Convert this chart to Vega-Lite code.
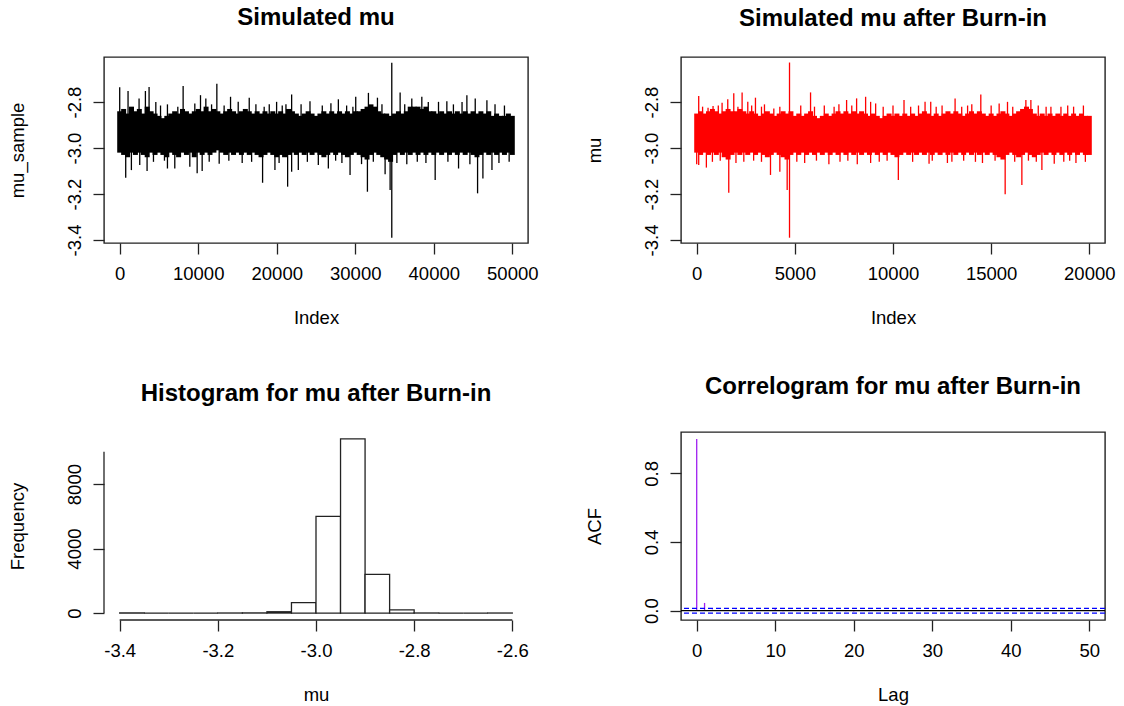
{
  "$schema": "https://vega.github.io/schema/vega-lite/v6.json",
  "background": "white",
  "padding": {"left": 7, "top": 5, "right": 0, "bottom": 0},
  "config": {
    "font": "Liberation Sans",
    "view": {"stroke": "#222", "strokeWidth": 1.4},
    "axis": {"grid": false, "domain": false, "tickColor": "#222", "tickWidth": 1.3, "tickSize": 11, "labelFont": "Liberation Sans", "labelFontSize": 18.5, "labelColor": "#000", "titleFont": "Liberation Sans", "titleFontSize": 18.5, "titleFontWeight": "normal", "titleColor": "#000", "labelFlush": false, "labelOverlap": false},
    "axisX": {"labelPadding": 10, "titlePadding": 26},
    "axisY": {"labelAngle": -90, "labelAlign": "center", "labelBaseline": "alphabetic", "labelPadding": 13, "titlePadding": 38},
    "title": {"fontSize": 24, "fontWeight": "bold", "font": "Liberation Sans", "color": "#000", "anchor": "middle", "baseline": "alphabetic"}
  },
  "datasets": {
    "p1core": [
      {"i":0,"lo":-3.02,"hi":-2.84},{"i":500,"lo":-3.03,"hi":-2.83},{"i":1000,"lo":-3.04,"hi":-2.85},{"i":1500,"lo":-3.02,"hi":-2.82},{"i":2000,"lo":-3.03,"hi":-2.84},
      {"i":2500,"lo":-3.02,"hi":-2.83},{"i":3000,"lo":-3.03,"hi":-2.85},{"i":3500,"lo":-3.04,"hi":-2.82},{"i":4000,"lo":-3.02,"hi":-2.84},{"i":4500,"lo":-3.03,"hi":-2.85},
      {"i":5000,"lo":-3.02,"hi":-2.86},{"i":5500,"lo":-3.03,"hi":-2.87},{"i":6000,"lo":-3.04,"hi":-2.86},{"i":6500,"lo":-3.02,"hi":-2.85},{"i":7000,"lo":-3.03,"hi":-2.84},
      {"i":7500,"lo":-3.04,"hi":-2.85},{"i":8000,"lo":-3.02,"hi":-2.83},{"i":8500,"lo":-3.03,"hi":-2.84},{"i":9000,"lo":-3.02,"hi":-2.85},{"i":9500,"lo":-3.04,"hi":-2.84},
      {"i":10000,"lo":-3.02,"hi":-2.83},{"i":10500,"lo":-3.03,"hi":-2.84},{"i":11000,"lo":-3.02,"hi":-2.82},{"i":11500,"lo":-3.03,"hi":-2.84},{"i":12000,"lo":-3.02,"hi":-2.83},
      {"i":12500,"lo":-3.01,"hi":-2.84},{"i":13000,"lo":-3.02,"hi":-2.85},{"i":13500,"lo":-3.03,"hi":-2.84},{"i":14000,"lo":-3.02,"hi":-2.83},{"i":14500,"lo":-3.03,"hi":-2.84},
      {"i":15000,"lo":-3.02,"hi":-2.85},{"i":15500,"lo":-3.03,"hi":-2.84},{"i":16000,"lo":-3.02,"hi":-2.83},{"i":16500,"lo":-3.03,"hi":-2.84},{"i":17000,"lo":-3.02,"hi":-2.85},
      {"i":17500,"lo":-3.03,"hi":-2.84},{"i":18000,"lo":-3.04,"hi":-2.85},{"i":18500,"lo":-3.03,"hi":-2.84},{"i":19000,"lo":-3.02,"hi":-2.85},{"i":19500,"lo":-3.03,"hi":-2.84},
      {"i":20000,"lo":-3.04,"hi":-2.85},{"i":20500,"lo":-3.03,"hi":-2.84},{"i":21000,"lo":-3.04,"hi":-2.85},{"i":21500,"lo":-3.03,"hi":-2.83},{"i":22000,"lo":-3.02,"hi":-2.84},
      {"i":22500,"lo":-3.03,"hi":-2.85},{"i":23000,"lo":-3.02,"hi":-2.86},{"i":23500,"lo":-3.03,"hi":-2.85},{"i":24000,"lo":-3.02,"hi":-2.84},{"i":24500,"lo":-3.03,"hi":-2.85},
      {"i":25000,"lo":-3.02,"hi":-2.86},{"i":25500,"lo":-3.03,"hi":-2.85},{"i":26000,"lo":-3.04,"hi":-2.84},{"i":26500,"lo":-3.03,"hi":-2.85},{"i":27000,"lo":-3.02,"hi":-2.84},
      {"i":27500,"lo":-3.03,"hi":-2.85},{"i":28000,"lo":-3.02,"hi":-2.84},{"i":28500,"lo":-3.03,"hi":-2.85},{"i":29000,"lo":-3.04,"hi":-2.84},{"i":29500,"lo":-3.03,"hi":-2.85},
      {"i":30000,"lo":-3.02,"hi":-2.84},{"i":30500,"lo":-3.03,"hi":-2.84},{"i":31000,"lo":-3.04,"hi":-2.83},{"i":31500,"lo":-3.05,"hi":-2.82},{"i":32000,"lo":-3.03,"hi":-2.81},
      {"i":32500,"lo":-3.02,"hi":-2.82},{"i":33000,"lo":-3.03,"hi":-2.84},{"i":33500,"lo":-3.04,"hi":-2.85},{"i":34000,"lo":-3.05,"hi":-2.85},{"i":34500,"lo":-3.06,"hi":-2.86},
      {"i":35000,"lo":-3.03,"hi":-2.85},{"i":35500,"lo":-3.02,"hi":-2.84},{"i":36000,"lo":-3.03,"hi":-2.85},{"i":36500,"lo":-3.02,"hi":-2.84},{"i":37000,"lo":-3.03,"hi":-2.82},
      {"i":37500,"lo":-3.02,"hi":-2.82},{"i":38000,"lo":-3.03,"hi":-2.82},{"i":38500,"lo":-3.02,"hi":-2.83},{"i":39000,"lo":-3.03,"hi":-2.82},{"i":39500,"lo":-3.02,"hi":-2.84},
      {"i":40000,"lo":-3.03,"hi":-2.84},{"i":40500,"lo":-3.02,"hi":-2.85},{"i":41000,"lo":-3.03,"hi":-2.84},{"i":41500,"lo":-3.02,"hi":-2.85},{"i":42000,"lo":-3.03,"hi":-2.84},
      {"i":42500,"lo":-3.02,"hi":-2.85},{"i":43000,"lo":-3.03,"hi":-2.84},{"i":43500,"lo":-3.02,"hi":-2.85},{"i":44000,"lo":-3.03,"hi":-2.84},{"i":44500,"lo":-3.02,"hi":-2.85},
      {"i":45000,"lo":-3.03,"hi":-2.84},{"i":45500,"lo":-3.04,"hi":-2.85},{"i":46000,"lo":-3.03,"hi":-2.84},{"i":46500,"lo":-3.02,"hi":-2.85},{"i":47000,"lo":-3.03,"hi":-2.84},
      {"i":47500,"lo":-3.02,"hi":-2.86},{"i":48000,"lo":-3.03,"hi":-2.85},{"i":48500,"lo":-3.02,"hi":-2.86},{"i":49000,"lo":-3.03,"hi":-2.86},{"i":49500,"lo":-3.02,"hi":-2.85},
      {"i":50000,"lo":-3.03,"hi":-2.86}
    ],
    "p1spike": [
      {"i":0,"lo":-3.0,"hi":-2.736},{"i":765,"lo":-3.129,"hi":-2.95},{"i":1063,"lo":-2.9,"hi":-2.752},{"i":1488,"lo":-3.096,"hi":-2.95},{"i":2466,"lo":-2.9,"hi":-2.784},
      {"i":2551,"lo":-3.074,"hi":-2.95},{"i":3273,"lo":-2.9,"hi":-2.752},{"i":3486,"lo":-3.1,"hi":-2.95},{"i":3741,"lo":-2.9,"hi":-2.735},{"i":4300,"lo":-3.06,"hi":-2.95},
      {"i":4600,"lo":-2.9,"hi":-2.8},{"i":5200,"lo":-2.9,"hi":-2.815},{"i":5700,"lo":-3.055,"hi":-2.95},{"i":6080,"lo":-3.089,"hi":-2.81},{"i":7015,"lo":-3.089,"hi":-2.95},
      {"i":7400,"lo":-2.9,"hi":-2.82},{"i":8078,"lo":-2.9,"hi":-2.73},{"i":8929,"lo":-3.081,"hi":-2.95},{"i":9566,"lo":-2.9,"hi":-2.806},{"i":9864,"lo":-3.11,"hi":-2.95},
      {"i":10290,"lo":-2.9,"hi":-2.77},{"i":10502,"lo":-3.1,"hi":-2.95},{"i":10969,"lo":-2.9,"hi":-2.784},{"i":11400,"lo":-3.06,"hi":-2.95},{"i":11700,"lo":-2.9,"hi":-2.81},
      {"i":12372,"lo":-2.9,"hi":-2.72},{"i":12670,"lo":-3.068,"hi":-2.95},{"i":13300,"lo":-2.9,"hi":-2.815},{"i":13900,"lo":-3.055,"hi":-2.95},{"i":14116,"lo":-2.9,"hi":-2.777},
      {"i":15093,"lo":-2.9,"hi":-2.799},{"i":15600,"lo":-3.065,"hi":-2.95},{"i":16497,"lo":-2.9,"hi":-2.781},{"i":16800,"lo":-3.06,"hi":-2.95},{"i":17347,"lo":-2.9,"hi":-2.809},
      {"i":18197,"lo":-3.151,"hi":-2.95},{"i":18400,"lo":-2.9,"hi":-2.82},{"i":19047,"lo":-2.9,"hi":-2.81},{"i":19770,"lo":-3.096,"hi":-2.95},{"i":19983,"lo":-2.9,"hi":-2.799},
      {"i":20300,"lo":-3.065,"hi":-2.95},{"i":20700,"lo":-2.9,"hi":-2.815},{"i":21173,"lo":-2.9,"hi":-2.81},{"i":21386,"lo":-3.168,"hi":-2.95},{"i":21897,"lo":-3.103,"hi":-2.767},
      {"i":22748,"lo":-3.096,"hi":-2.95},{"i":23100,"lo":-2.9,"hi":-2.81},{"i":23900,"lo":-3.06,"hi":-2.95},{"i":24234,"lo":-2.9,"hi":-2.796},{"i":25296,"lo":-3.074,"hi":-2.95},
      {"i":25800,"lo":-2.9,"hi":-2.815},{"i":26572,"lo":-3.089,"hi":-2.95},{"i":26900,"lo":-2.9,"hi":-2.805},{"i":27500,"lo":-3.055,"hi":-2.95},{"i":27848,"lo":-2.9,"hi":-2.788},
      {"i":28300,"lo":-3.065,"hi":-2.95},{"i":28900,"lo":-2.9,"hi":-2.815},{"i":29337,"lo":-3.117,"hi":-2.95},{"i":29700,"lo":-2.9,"hi":-2.82},{"i":30060,"lo":-2.9,"hi":-2.777},
      {"i":30800,"lo":-3.07,"hi":-2.95},{"i":31549,"lo":-3.19,"hi":-2.95},{"i":31676,"lo":-2.9,"hi":-2.76},{"i":32300,"lo":-3.06,"hi":-2.95},{"i":32826,"lo":-2.9,"hi":-2.781},
      {"i":33400,"lo":-2.9,"hi":-2.81},{"i":33801,"lo":-3.114,"hi":-2.95},{"i":34439,"lo":-3.183,"hi":-2.95},{"i":34651,"lo":-3.39,"hi":-2.629},{"i":35300,"lo":-3.065,"hi":-2.95},
      {"i":35714,"lo":-2.9,"hi":-2.758},{"i":36300,"lo":-2.9,"hi":-2.81},{"i":36564,"lo":-3.071,"hi":-2.95},{"i":37201,"lo":-2.9,"hi":-2.784},{"i":37900,"lo":-3.06,"hi":-2.95},
      {"i":38477,"lo":-2.9,"hi":-2.777},{"i":39000,"lo":-3.065,"hi":-2.95},{"i":39300,"lo":-2.9,"hi":-2.8},{"i":40178,"lo":-3.139,"hi":-2.95},{"i":40602,"lo":-2.9,"hi":-2.799},
      {"i":41665,"lo":-2.9,"hi":-2.796},{"i":41800,"lo":-3.06,"hi":-2.95},{"i":42500,"lo":-2.9,"hi":-2.81},{"i":43155,"lo":-3.089,"hi":-2.95},{"i":43600,"lo":-2.9,"hi":-2.8},
      {"i":44216,"lo":-2.9,"hi":-2.77},{"i":44600,"lo":-3.07,"hi":-2.95},{"i":45280,"lo":-2.9,"hi":-2.784},{"i":45578,"lo":-3.197,"hi":-2.95},{"i":46257,"lo":-3.132,"hi":-2.95},
      {"i":46767,"lo":-2.9,"hi":-2.792},{"i":47409,"lo":-3.096,"hi":-2.95},{"i":47800,"lo":-2.9,"hi":-2.81},{"i":48300,"lo":-3.065,"hi":-2.95},{"i":49000,"lo":-2.9,"hi":-2.815},
      {"i":49600,"lo":-3.06,"hi":-2.95}
    ],
    "p2core": [
      {"i":0,"lo":-3.02,"hi":-2.85},{"i":200,"lo":-3.03,"hi":-2.84},{"i":400,"lo":-3.02,"hi":-2.85},{"i":600,"lo":-3.03,"hi":-2.84},{"i":800,"lo":-3.02,"hi":-2.83},
      {"i":1000,"lo":-3.03,"hi":-2.84},{"i":1200,"lo":-3.02,"hi":-2.85},{"i":1400,"lo":-3.04,"hi":-2.84},{"i":1600,"lo":-3.05,"hi":-2.83},{"i":1800,"lo":-3.03,"hi":-2.84},
      {"i":2000,"lo":-3.02,"hi":-2.84},{"i":2200,"lo":-3.03,"hi":-2.83},{"i":2400,"lo":-3.02,"hi":-2.84},{"i":2600,"lo":-3.03,"hi":-2.85},{"i":2800,"lo":-3.02,"hi":-2.84},
      {"i":3000,"lo":-3.03,"hi":-2.85},{"i":3200,"lo":-3.02,"hi":-2.86},{"i":3400,"lo":-3.03,"hi":-2.85},{"i":3600,"lo":-3.04,"hi":-2.84},{"i":3800,"lo":-3.03,"hi":-2.85},
      {"i":4000,"lo":-3.02,"hi":-2.86},{"i":4200,"lo":-3.03,"hi":-2.85},{"i":4400,"lo":-3.04,"hi":-2.84},{"i":4600,"lo":-3.05,"hi":-2.85},{"i":4800,"lo":-3.03,"hi":-2.84},
      {"i":5000,"lo":-3.02,"hi":-2.86},{"i":5200,"lo":-3.03,"hi":-2.85},{"i":5400,"lo":-3.02,"hi":-2.86},{"i":5600,"lo":-3.03,"hi":-2.85},{"i":5800,"lo":-3.02,"hi":-2.84},
      {"i":6000,"lo":-3.03,"hi":-2.86},{"i":6200,"lo":-3.02,"hi":-2.87},{"i":6400,"lo":-3.03,"hi":-2.86},{"i":6600,"lo":-3.02,"hi":-2.85},{"i":6800,"lo":-3.03,"hi":-2.86},
      {"i":7000,"lo":-3.02,"hi":-2.85},{"i":7200,"lo":-3.03,"hi":-2.84},{"i":7400,"lo":-3.02,"hi":-2.85},{"i":7600,"lo":-3.03,"hi":-2.84},{"i":7800,"lo":-3.02,"hi":-2.85},
      {"i":8000,"lo":-3.03,"hi":-2.84},{"i":8200,"lo":-3.02,"hi":-2.85},{"i":8400,"lo":-3.03,"hi":-2.84},{"i":8600,"lo":-3.02,"hi":-2.85},{"i":8800,"lo":-3.03,"hi":-2.86},
      {"i":9000,"lo":-3.02,"hi":-2.85},{"i":9200,"lo":-3.03,"hi":-2.86},{"i":9400,"lo":-3.02,"hi":-2.87},{"i":9600,"lo":-3.03,"hi":-2.86},{"i":9800,"lo":-3.02,"hi":-2.85},
      {"i":10000,"lo":-3.03,"hi":-2.86},{"i":10200,"lo":-3.04,"hi":-2.85},{"i":10400,"lo":-3.03,"hi":-2.86},{"i":10600,"lo":-3.02,"hi":-2.85},{"i":10800,"lo":-3.03,"hi":-2.86},
      {"i":11000,"lo":-3.02,"hi":-2.85},{"i":11200,"lo":-3.03,"hi":-2.86},{"i":11400,"lo":-3.02,"hi":-2.85},{"i":11600,"lo":-3.03,"hi":-2.84},{"i":11800,"lo":-3.02,"hi":-2.85},
      {"i":12000,"lo":-3.03,"hi":-2.86},{"i":12200,"lo":-3.02,"hi":-2.85},{"i":12400,"lo":-3.03,"hi":-2.86},{"i":12600,"lo":-3.02,"hi":-2.85},{"i":12800,"lo":-3.03,"hi":-2.84},
      {"i":13000,"lo":-3.02,"hi":-2.85},{"i":13200,"lo":-3.03,"hi":-2.84},{"i":13400,"lo":-3.02,"hi":-2.85},{"i":13600,"lo":-3.03,"hi":-2.86},{"i":13800,"lo":-3.02,"hi":-2.85},
      {"i":14000,"lo":-3.03,"hi":-2.84},{"i":14200,"lo":-3.02,"hi":-2.85},{"i":14400,"lo":-3.03,"hi":-2.84},{"i":14600,"lo":-3.02,"hi":-2.85},{"i":14800,"lo":-3.03,"hi":-2.86},
      {"i":15000,"lo":-3.02,"hi":-2.85},{"i":15200,"lo":-3.03,"hi":-2.86},{"i":15400,"lo":-3.04,"hi":-2.85},{"i":15600,"lo":-3.05,"hi":-2.84},{"i":15800,"lo":-3.03,"hi":-2.85},
      {"i":16000,"lo":-3.02,"hi":-2.86},{"i":16200,"lo":-3.03,"hi":-2.85},{"i":16400,"lo":-3.04,"hi":-2.84},{"i":16600,"lo":-3.03,"hi":-2.83},{"i":16800,"lo":-3.02,"hi":-2.82},
      {"i":17000,"lo":-3.03,"hi":-2.83},{"i":17200,"lo":-3.04,"hi":-2.85},{"i":17400,"lo":-3.03,"hi":-2.86},{"i":17600,"lo":-3.02,"hi":-2.85},{"i":17800,"lo":-3.03,"hi":-2.86},
      {"i":18000,"lo":-3.02,"hi":-2.85},{"i":18200,"lo":-3.03,"hi":-2.86},{"i":18400,"lo":-3.02,"hi":-2.85},{"i":18600,"lo":-3.03,"hi":-2.86},{"i":18800,"lo":-3.02,"hi":-2.85},
      {"i":19000,"lo":-3.03,"hi":-2.86},{"i":19200,"lo":-3.02,"hi":-2.85},{"i":19400,"lo":-3.03,"hi":-2.86},{"i":19600,"lo":-3.02,"hi":-2.85},{"i":19800,"lo":-3.03,"hi":-2.86},
      {"i":20000,"lo":-3.03,"hi":-2.86}
    ],
    "p2spike": [
      {"i":0,"lo":-3.07,"hi":-2.855},{"i":102,"lo":-3.074,"hi":-2.774},{"i":300,"lo":-2.9,"hi":-2.82},{"i":493,"lo":-3.085,"hi":-2.95},{"i":578,"lo":-2.9,"hi":-2.825},
      {"i":800,"lo":-3.06,"hi":-2.95},{"i":833,"lo":-2.9,"hi":-2.817},{"i":1100,"lo":-2.9,"hi":-2.815},{"i":1200,"lo":-3.055,"hi":-2.95},{"i":1293,"lo":-2.9,"hi":-2.803},
      {"i":1582,"lo":-2.9,"hi":-2.788},{"i":1633,"lo":-3.194,"hi":-2.95},{"i":1888,"lo":-2.9,"hi":-2.762},{"i":2000,"lo":-3.065,"hi":-2.95},{"i":2100,"lo":-2.9,"hi":-2.82},
      {"i":2313,"lo":-2.9,"hi":-2.758},{"i":2400,"lo":-3.06,"hi":-2.95},{"i":2602,"lo":-2.9,"hi":-2.799},{"i":2800,"lo":-2.9,"hi":-2.815},{"i":2900,"lo":-3.055,"hi":-2.95},
      {"i":2993,"lo":-2.9,"hi":-2.781},{"i":3300,"lo":-3.06,"hi":-2.82},{"i":3452,"lo":-2.9,"hi":-2.81},{"i":3759,"lo":-3.117,"hi":-2.95},{"i":3929,"lo":-2.9,"hi":-2.828},
      {"i":4235,"lo":-3.103,"hi":-2.82},{"i":4609,"lo":-3.183,"hi":-2.95},{"i":4728,"lo":-3.39,"hi":-2.628},{"i":5100,"lo":-3.06,"hi":-2.95},{"i":5300,"lo":-2.9,"hi":-2.815},
      {"i":5500,"lo":-3.065,"hi":-2.95},{"i":5800,"lo":-2.9,"hi":-2.758},{"i":6000,"lo":-2.9,"hi":-2.82},{"i":6100,"lo":-3.055,"hi":-2.95},{"i":6500,"lo":-2.9,"hi":-2.815},
      {"i":6734,"lo":-3.071,"hi":-2.95},{"i":7000,"lo":-2.9,"hi":-2.82},{"i":7245,"lo":-2.9,"hi":-2.81},{"i":7300,"lo":-3.06,"hi":-2.95},{"i":7636,"lo":-2.9,"hi":-2.791},
      {"i":7700,"lo":-3.055,"hi":-2.95},{"i":7900,"lo":-2.9,"hi":-2.815},{"i":8146,"lo":-2.9,"hi":-2.784},{"i":8180,"lo":-3.071,"hi":-2.95},{"i":8605,"lo":-2.9,"hi":-2.777},
      {"i":8860,"lo":-3.065,"hi":-2.799},{"i":9116,"lo":-2.9,"hi":-2.806},{"i":9300,"lo":-3.06,"hi":-2.95},{"i":9500,"lo":-2.9,"hi":-2.82},{"i":9700,"lo":-3.055,"hi":-2.95},
      {"i":10000,"lo":-2.9,"hi":-2.815},{"i":10272,"lo":-3.139,"hi":-2.95},{"i":10561,"lo":-2.9,"hi":-2.791},{"i":10900,"lo":-2.9,"hi":-2.82},{"i":11000,"lo":-3.06,"hi":-2.95},
      {"i":11300,"lo":-2.9,"hi":-2.815},{"i":11633,"lo":-2.9,"hi":-2.799},{"i":11837,"lo":-3.068,"hi":-2.95},{"i":11922,"lo":-2.9,"hi":-2.799},{"i":12000,"lo":-3.055,"hi":-2.95},
      {"i":12200,"lo":-2.9,"hi":-2.82},{"i":12500,"lo":-2.9,"hi":-2.815},{"i":12772,"lo":-3.065,"hi":-2.95},{"i":13000,"lo":-3.06,"hi":-2.95},{"i":13163,"lo":-2.9,"hi":-2.784},
      {"i":13500,"lo":-2.9,"hi":-2.82},{"i":13600,"lo":-3.055,"hi":-2.95},{"i":13800,"lo":-2.9,"hi":-2.815},{"i":14014,"lo":-2.9,"hi":-2.81},{"i":14200,"lo":-3.06,"hi":-2.95},
      {"i":14473,"lo":-2.9,"hi":-2.767},{"i":14558,"lo":-3.065,"hi":-2.95},{"i":15000,"lo":-2.9,"hi":-2.815},{"i":15200,"lo":-3.055,"hi":-2.95},{"i":15408,"lo":-2.9,"hi":-2.806},
      {"i":15714,"lo":-3.201,"hi":-2.95},{"i":15833,"lo":-2.9,"hi":-2.799},{"i":16100,"lo":-2.9,"hi":-2.82},{"i":16200,"lo":-3.06,"hi":-2.95},{"i":16565,"lo":-3.161,"hi":-2.95},
      {"i":16769,"lo":-2.9,"hi":-2.791},{"i":16900,"lo":-3.055,"hi":-2.95},{"i":17024,"lo":-2.9,"hi":-2.791},{"i":17300,"lo":-3.06,"hi":-2.95},{"i":17400,"lo":-2.9,"hi":-2.815},
      {"i":17585,"lo":-3.096,"hi":-2.95},{"i":17800,"lo":-2.9,"hi":-2.82},{"i":18045,"lo":-2.9,"hi":-2.82},{"i":18214,"lo":-3.068,"hi":-2.95},{"i":18556,"lo":-2.9,"hi":-2.82},
      {"i":18700,"lo":-3.06,"hi":-2.95},{"i":18900,"lo":-2.9,"hi":-2.815},{"i":19000,"lo":-3.055,"hi":-2.95},{"i":19200,"lo":-2.9,"hi":-2.82},{"i":19320,"lo":-3.065,"hi":-2.95},
      {"i":19700,"lo":-2.9,"hi":-2.815},{"i":19800,"lo":-3.06,"hi":-2.95}
    ],
    "hist": [
      {"lo":-3.4,"hi":-3.35,"n":1},{"lo":-3.35,"hi":-3.3,"n":0},{"lo":-3.3,"hi":-3.25,"n":0},{"lo":-3.25,"hi":-3.2,"n":0},
      {"lo":-3.2,"hi":-3.15,"n":2},{"lo":-3.15,"hi":-3.1,"n":8},{"lo":-3.1,"hi":-3.05,"n":80},{"lo":-3.05,"hi":-3.0,"n":650},
      {"lo":-3.0,"hi":-2.95,"n":6000},{"lo":-2.95,"hi":-2.9,"n":10800},{"lo":-2.9,"hi":-2.85,"n":2400},{"lo":-2.85,"hi":-2.8,"n":190},
      {"lo":-2.8,"hi":-2.75,"n":3},{"lo":-2.75,"hi":-2.7,"n":0},{"lo":-2.7,"hi":-2.65,"n":0},{"lo":-2.65,"hi":-2.6,"n":1}
    ],
    "acf": [
      {"lag":0,"acf":1.0},{"lag":1,"acf":0.045},{"lag":2,"acf":0.006},{"lag":3,"acf":0.004},{"lag":4,"acf":-0.002},{"lag":5,"acf":0.005},
      {"lag":6,"acf":0.003},{"lag":7,"acf":-0.003},{"lag":8,"acf":0.004},{"lag":9,"acf":0.002},{"lag":10,"acf":0.009},{"lag":11,"acf":-0.004},
      {"lag":12,"acf":0.003},{"lag":13,"acf":0.002},{"lag":14,"acf":-0.002},{"lag":15,"acf":0.003},{"lag":16,"acf":0.001},{"lag":17,"acf":-0.003},
      {"lag":18,"acf":0.002},{"lag":19,"acf":-0.004},{"lag":20,"acf":-0.005},{"lag":21,"acf":0.002},{"lag":22,"acf":-0.003},{"lag":23,"acf":0.004},
      {"lag":24,"acf":-0.002},{"lag":25,"acf":0.003},{"lag":26,"acf":0.002},{"lag":27,"acf":-0.002},{"lag":28,"acf":0.003},{"lag":29,"acf":-0.001},
      {"lag":30,"acf":0.002},{"lag":31,"acf":0.003},{"lag":32,"acf":-0.002},{"lag":33,"acf":-0.004},{"lag":34,"acf":0.002},{"lag":35,"acf":-0.003},
      {"lag":36,"acf":0.001},{"lag":37,"acf":-0.002},{"lag":38,"acf":0.002},{"lag":39,"acf":-0.003},{"lag":40,"acf":-0.002},{"lag":41,"acf":0.001},
      {"lag":42,"acf":0.003},{"lag":43,"acf":-0.002},{"lag":44,"acf":-0.003},{"lag":45,"acf":0.002},{"lag":46,"acf":-0.001},{"lag":47,"acf":0.002},
      {"lag":48,"acf":-0.002},{"lag":49,"acf":0.001},{"lag":50,"acf":-0.002}
    ],
    "ci": [{"ci":0.01386},{"ci":-0.01386}],
    "one": [{"k":1}]
  },
  "spacing": 46,
  "vconcat": [
    {
      "spacing": 45,
      "hconcat": [
        {
          "width": 424, "height": 186,
          "title": {"text": "Simulated mu", "offset": 27},
          "encoding": {
            "x": {"field": "i", "type": "quantitative", "scale": {"domain": [-2000, 52000], "nice": false, "zero": false}, "axis": {"values": [0, 10000, 20000, 30000, 40000, 50000], "format": "d", "title": "Index"}},
            "y": {"field": "lo", "type": "quantitative", "scale": {"domain": [-3.413, -2.604], "nice": false, "zero": false}, "axis": {"values": [-3.4, -3.2, -3.0, -2.8], "labelExpr": "replace(format(datum.value, '.1f'), '\u2212', '-')", "title": "mu_sample"}},
            "y2": {"field": "hi"}
          },
          "layer": [
            {"data": {"name": "p1core"}, "mark": {"type": "rule", "color": "#000", "strokeWidth": 5}},
            {"data": {"name": "p1spike"}, "mark": {"type": "rule", "color": "#000", "strokeWidth": 1.3}}
          ]
        },
        {
          "width": 424, "height": 186,
          "title": {"text": "Simulated mu after Burn-in", "offset": 26},
          "encoding": {
            "x": {"field": "i", "type": "quantitative", "scale": {"domain": [-800, 20800], "nice": false, "zero": false}, "axis": {"values": [0, 5000, 10000, 15000, 20000], "format": "d", "title": "Index"}},
            "y": {"field": "lo", "type": "quantitative", "scale": {"domain": [-3.413, -2.604], "nice": false, "zero": false}, "axis": {"values": [-3.4, -3.2, -3.0, -2.8], "labelExpr": "replace(format(datum.value, '.1f'), '\u2212', '-')", "title": "mu"}},
            "y2": {"field": "hi"}
          },
          "layer": [
            {"data": {"name": "p2core"}, "mark": {"type": "rule", "color": "#FF0000", "strokeWidth": 5}},
            {"data": {"name": "p2spike"}, "mark": {"type": "rule", "color": "#FF0000", "strokeWidth": 1.3}}
          ]
        }
      ]
    },
    {
      "spacing": 55,
      "hconcat": [
        {
          "width": 424, "height": 188,
          "view": {"stroke": null},
          "title": {"text": "Histogram for mu after Burn-in", "offset": 26},
          "layer": [
            {
              "data": {"name": "hist"},
              "mark": {"type": "bar", "fill": "#fff", "stroke": "#222", "strokeWidth": 1.3},
              "encoding": {
                "x": {"field": "lo", "type": "quantitative", "scale": {"domain": [-3.432, -2.568], "nice": false, "zero": false}, "axis": {"values": [-3.4, -3.2, -3.0, -2.8, -2.6], "labelExpr": "replace(format(datum.value, '.1f'), '\u2212', '-')", "title": "mu"}},
                "x2": {"field": "hi"},
                "y": {"field": "n", "type": "quantitative", "scale": {"domain": [-432, 11232], "nice": false, "zero": false}, "axis": {"values": [0, 2000, 4000, 6000, 8000, 10000], "labelExpr": "datum.value % 4000 == 0 ? format(datum.value, 'd') : ''", "title": "Frequency"}},
                "y2": {"datum": 0}
              }
            },
            {
              "data": {"name": "one"},
              "mark": {"type": "rule", "color": "#222", "strokeWidth": 1.3},
              "encoding": {"x": {"datum": -3.4, "type": "quantitative"}, "x2": {"datum": -2.6}, "y": {"datum": -432, "type": "quantitative"}}
            },
            {
              "data": {"name": "one"},
              "mark": {"type": "rule", "color": "#222", "strokeWidth": 1.3},
              "encoding": {"x": {"datum": -3.432, "type": "quantitative"}, "y": {"datum": 0, "type": "quantitative"}, "y2": {"datum": 10000}}
            }
          ]
        },
        {
          "width": 424, "height": 188,
          "title": {"text": "Correlogram for mu after Burn-in", "offset": 33},
          "layer": [
            {
              "data": {"name": "acf"},
              "mark": {"type": "rule", "color": "#A020F0", "strokeWidth": 1.3},
              "encoding": {
                "x": {"field": "lag", "type": "quantitative", "scale": {"domain": [-2, 52], "nice": false, "zero": false}, "axis": {"values": [0, 10, 20, 30, 40, 50], "title": "Lag"}},
                "y": {"field": "acf", "type": "quantitative", "scale": {"domain": [-0.0544, 1.0406], "nice": false, "zero": false}, "axis": {"values": [0, 0.2, 0.4, 0.6, 0.8, 1.0], "labelExpr": "round(datum.value * 10) % 4 == 0 ? format(datum.value, '.1f') : ''", "title": "ACF"}},
                "y2": {"datum": 0}
              }
            },
            {
              "data": {"name": "one"},
              "mark": {"type": "rule", "color": "#000", "strokeWidth": 1.3},
              "encoding": {"y": {"datum": 0, "type": "quantitative"}}
            },
            {
              "data": {"name": "ci"},
              "mark": {"type": "rule", "color": "#0000FF", "strokeWidth": 1.3, "strokeDash": [5, 3]},
              "encoding": {"y": {"field": "ci", "type": "quantitative"}}
            }
          ]
        }
      ]
    }
  ]
}
